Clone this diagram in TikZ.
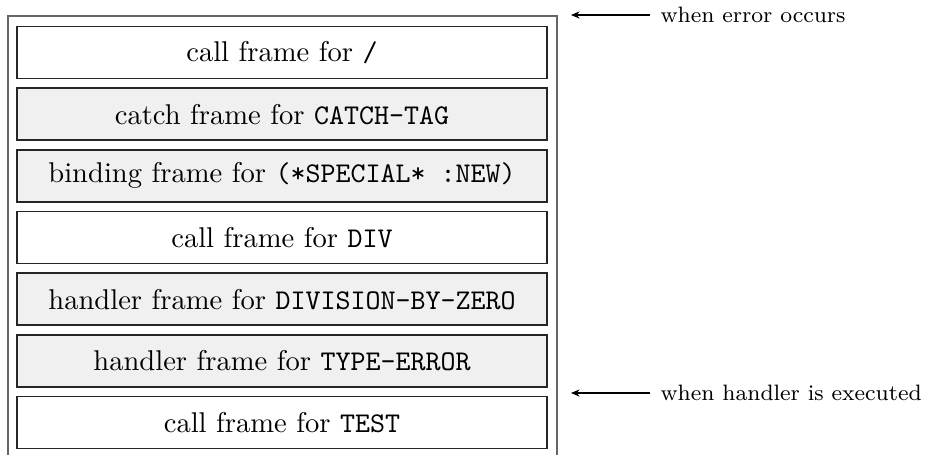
\documentclass[tikz,border=0pt]{standalone}
\usetikzlibrary{arrows.meta, positioning}

\begin{document}
\begin{tikzpicture}[
        x=0.35pt, y=-0.35pt,
        frame/.style={rectangle, draw=black!85, line width=0.5pt, fill=white, minimum width=185.5pt, minimum height=18.2pt, inner sep=0pt, font=\normalsize},
        shaded/.style={frame, fill=black!6},
        stack/.style={draw=black!60, line width=0.7pt},
        note/.style={font=\fontsize{7.8}{9.5}\selectfont, anchor=west, inner sep=0pt},
        arrow/.style={-{Stealth[length=3pt, width=2.5pt]}, line width=0.4pt, draw=black}
    ]
        \useasboundingbox (0,0) rectangle (930,455);

        % the stack
        \draw[stack] (7.5,455) -- (7.5,16) -- (556.5,16) -- (556.5,455);

        \node[frame]  (slash)   at (282,52.5)  {call frame for \texttt{/}};
        \node[shaded] (catch)   at (282,114.2) {catch frame for \texttt{CATCH-TAG}};
        \node[shaded] (binding) at (282,175.8) {binding frame for \texttt{(*SPECIAL* :NEW)}};
        \node[frame]  (div)     at (282,237.5) {call frame for \texttt{DIV}};
        \node[shaded] (divzero) at (282,299.2) {handler frame for \texttt{DIVISION-BY-ZERO}};
        \node[shaded] (typeerr) at (282,360.8) {handler frame for \texttt{TYPE-ERROR}};
        \node[frame]  (test)    at (282,422.5) {call frame for \texttt{TEST}};

        % markers
        \node[note] (error)   at (660,15)  {when error occurs};
        \node[note] (handler) at (660,393) {when handler is executed};
        \coordinate (errortip)   at (571,15);
        \coordinate (handlertip) at (571,393);

        \draw[arrow] ([xshift=-3.5pt]error.west) -- (errortip);
        \draw[arrow] ([xshift=-3.5pt]handler.west) -- (handlertip);
    \end{tikzpicture}
\end{document}
